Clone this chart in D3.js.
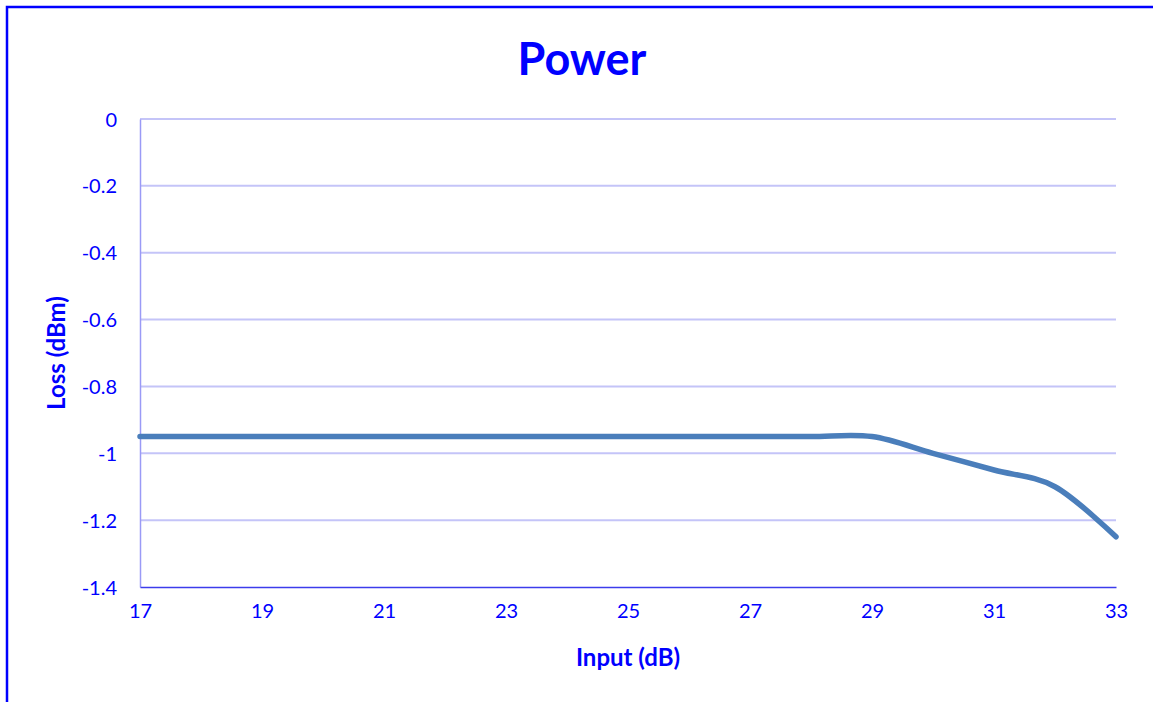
<!DOCTYPE html>
<html>
<head>
<meta charset="utf-8">
<script src="https://cdn.jsdelivr.net/npm/d3@7"></script>
<style>
  body { margin: 0; background: #fff; }
  text { font-family: Lato, "Open Sans", sans-serif; fill: #0000ff; }
</style>
</head>
<body>
<div id="chart"></div>
<script>
var inputs = [17, 18, 19, 20, 21, 22, 23, 24, 25, 26, 27, 28, 29, 30, 31, 32, 33];
var losses = [-0.95, -0.95, -0.95, -0.95, -0.95, -0.95, -0.95, -0.95, -0.95, -0.95, -0.95, -0.95, -0.95, -1.0, -1.05, -1.1, -1.25];
var xTicks = [17, 19, 21, 23, 25, 27, 29, 31, 33];
var yTicks = [0, -0.2, -0.4, -0.6, -0.8, -1, -1.2, -1.4];

var svg = d3.select("#chart")
            .append("svg")
            .attr("width", 1153)
            .attr("height", 702);

// outer frame
svg.append("rect")
   .attr("x", 7).attr("y", 7)
   .attr("width", 1160).attr("height", 720)
   .style("fill", "none")
   .style("stroke", "#0000ff")
   .style("stroke-width", 2.5);

var x = d3.scaleLinear().domain([17, 33]).range([140, 1116]);
var y = d3.scaleLinear().domain([-1.4, 0]).range([587, 119]);

// gridlines
svg.selectAll("line.grid")
   .data(yTicks.slice(0, -1))
   .enter()
   .append("line")
   .attr("class", "grid")
   .attr("x1", x(17)).attr("x2", x(33))
   .attr("y1", function(d) { return y(d); })
   .attr("y2", function(d) { return y(d); })
   .style("stroke", "#c4c4f8")
   .style("stroke-width", 2);

// plain hyphen for negatives, like the original
var fmt = function(d) { return String(d); };

var yAxis = svg.append("g")
   .attr("transform", "translate(" + x(17) + ",0)")
   .call(d3.axisLeft(y).tickValues(yTicks).tickSize(0).tickPadding(23).tickFormat(fmt));
yAxis.select(".domain").style("stroke", "#9a9af6").style("stroke-width", 1.5);
yAxis.selectAll("text").style("font-size", "20px").attr("dy", "0.35em");

var xAxis = svg.append("g")
   .attr("transform", "translate(0," + y(-1.4) + ")")
   .call(d3.axisBottom(x).tickValues(xTicks).tickSize(0).tickPadding(31).tickFormat(fmt));
xAxis.select(".domain").style("stroke", "#3c3cec").style("stroke-width", 1.5);
xAxis.selectAll("text").style("font-size", "20px").attr("dy", "0");

var line = d3.line()
   .x(function(d, i) { return x(inputs[i]); })
   .y(function(d) { return y(d); })
   .curve(d3.curveCardinal.tension(0));

svg.append("path")
   .datum(losses)
   .attr("d", line)
   .style("fill", "none")
   .style("stroke", "#4a7ebb")
   .style("stroke-width", 5.5)
   .style("stroke-linecap", "round");

svg.append("text")
   .attr("x", 582).attr("y", 75)
   .attr("text-anchor", "middle")
   .style("font-size", "45px")
   .style("font-weight", "bold")
   .text("Power");

svg.append("text")
   .attr("x", 628).attr("y", 666)
   .attr("text-anchor", "middle")
   .style("font-size", "24px")
   .style("font-weight", "bold")
   .text("Input (dB)");

svg.append("text")
   .attr("transform", "translate(65,353) rotate(-90)")
   .attr("text-anchor", "middle")
   .style("font-size", "24px")
   .style("font-weight", "bold")
   .text("Loss (dBm)");
</script>
</body>
</html>
